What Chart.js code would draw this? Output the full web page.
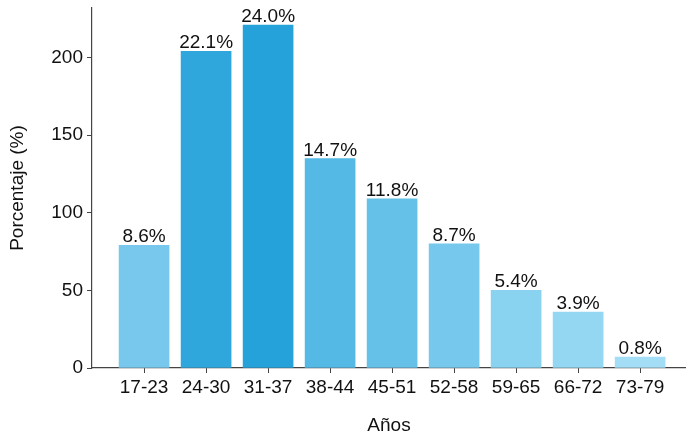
<!DOCTYPE html>
<html>
<head>
<meta charset="utf-8">
<script src="https://cdn.jsdelivr.net/npm/chart.js@4"></script>
<style>
  html, body { margin: 0; padding: 0; background: #fff; }
  #wrap { width: 686px; height: 439px; }
</style>
</head>
<body>
<div id="wrap"><canvas id="chart" width="686" height="439"></canvas></div>
<script>
var categories = ["17-23", "24-30", "31-37", "38-44", "45-51", "52-58", "59-65", "66-72", "73-79"];
var counts = [79, 204, 221, 135, 109, 80, 50, 36, 7];
var percentLabels = ["8.6%", "22.1%", "24.0%", "14.7%", "11.8%", "8.7%", "5.4%", "3.9%", "0.8%"];
var barColors = ["#77C8EC", "#30A7DC", "#26A2DB", "#55B9E5", "#66C1E8", "#76C8EC", "#89D2F0", "#93D7F2", "#A4DEF6"];
var yTicks = [0, 50, 100, 150, 200];

var FONT = '"Liberation Sans", Arial, sans-serif';
var AXIS = "#444";
var TEXT = "#111";

// percentage text above every bar
var valueLabels = {
    id: "valueLabels",
    afterDatasetsDraw: function (chart) {
        var c = chart.ctx;
        var meta = chart.getDatasetMeta(0);
        c.save();
        c.font = "19px " + FONT;
        c.fillStyle = TEXT;
        c.textAlign = "center";
        c.textBaseline = "alphabetic";
        meta.data.forEach(function (bar, i) {
            c.fillText(percentLabels[i], bar.x, bar.y - 3);
        });
        c.restore();
    }
};

var ctx = document.getElementById("chart").getContext("2d");

new Chart(ctx, {
    type: "bar",
    data: {
        datasets: [{
            data: counts.map(function (v, i) { return { x: i, y: v }; }),
            backgroundColor: barColors,
            borderWidth: 0,
            barThickness: 50
        }]
    },
    options: {
        responsive: false,
        animation: false,
        layout: { padding: { top: 8, right: 0, left: 0, bottom: 0 } },
        plugins: {
            legend: { display: false },
            tooltip: { enabled: false }
        },
        scales: {
            x: {
                type: "linear",
                offset: false,
                min: -0.84,
                max: 8.74,
                afterBuildTicks: function (scale) {
                    scale.ticks = categories.map(function (c, i) { return { value: i }; });
                },
                afterFit: function (scale) {
                    scale.height = 71;
                    scale.paddingLeft = 0;
                    scale.paddingRight = 0;
                },
                grid: {
                    display: true,
                    offset: false,
                    drawOnChartArea: false,
                    drawTicks: true,
                    tickLength: 5,
                    color: AXIS
                },
                border: { display: true, color: AXIS, width: 1.2 },
                ticks: {
                    autoSkip: false,
                    maxRotation: 0,
                    padding: 3,
                    color: TEXT,
                    font: { size: 19, family: FONT },
                    callback: function (v) { return categories[v]; }
                },
                title: {
                    display: true,
                    text: "Años",
                    color: TEXT,
                    font: { size: 19, family: FONT },
                    padding: { top: 0, bottom: 2 }
                }
            },
            y: {
                min: 0,
                max: 232,
                afterBuildTicks: function (scale) {
                    scale.ticks = yTicks.map(function (v) { return { value: v }; });
                },
                afterFit: function (scale) {
                    scale.width = 92;
                    scale.paddingTop = 0;
                    scale.paddingBottom = 0;
                },
                grid: {
                    display: true,
                    drawOnChartArea: false,
                    drawTicks: true,
                    tickLength: 5,
                    color: AXIS
                },
                border: { display: true, color: AXIS, width: 1.2 },
                ticks: {
                    padding: 4,
                    color: TEXT,
                    font: { size: 19, family: FONT }
                },
                title: {
                    display: true,
                    text: "Porcentaje (%)",
                    color: TEXT,
                    font: { size: 19, family: FONT },
                    padding: { top: 6, bottom: 0 }
                }
            }
        }
    },
    plugins: [valueLabels]
});
</script>
</body>
</html>
